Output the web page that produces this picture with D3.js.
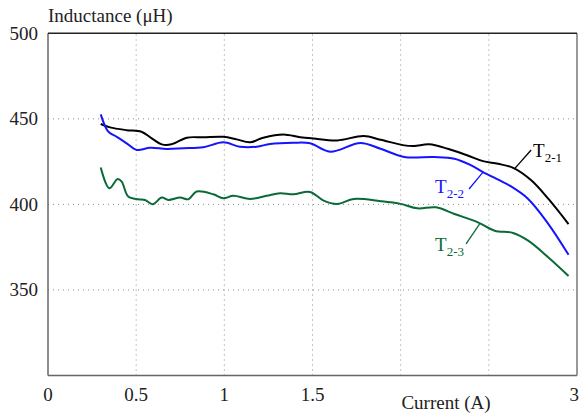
<!DOCTYPE html>
<html>
<head>
<meta charset="utf-8">
<script src="https://cdn.jsdelivr.net/npm/d3@7/dist/d3.min.js"></script>
<style>
  html, body { margin: 0; padding: 0; background: #fff; }
  svg { display: block; }
  text { font-family: "Liberation Serif", "Times New Roman", serif; }
</style>
</head>
<body>
<svg id="chart" width="580" height="414"></svg>
<script>
// Inductance vs. current for three samples (x in A, y in µH)
const t21 = [
  [0.299, 447], [0.352, 445], [0.446, 443.4], [0.53, 442.5], [0.588, 438.6],
  [0.645, 435.1], [0.70, 435.1], [0.787, 439], [0.881, 439.2], [0.994, 439.5],
  [1.07, 438], [1.146, 436.3], [1.221, 439], [1.335, 440.9], [1.43, 439.3],
  [1.505, 438.5], [1.64, 437.4], [1.79, 440], [1.886, 437.8], [2.02, 434.5],
  [2.076, 434.1], [2.162, 435.1], [2.267, 432.5], [2.38, 428.6], [2.467, 425.3],
  [2.552, 423.7], [2.638, 421.4], [2.742, 414], [2.838, 403.2], [2.952, 388.5]
];
const t22 = [
  [0.299, 452.6], [0.342, 442.5], [0.39, 439.5], [0.446, 435.7], [0.503, 431.8],
  [0.579, 433.1], [0.673, 432.4], [0.767, 432.8], [0.881, 433.4], [0.994, 436.3],
  [1.089, 433.7], [1.184, 433.7], [1.259, 435.3], [1.391, 436], [1.486, 435.7],
  [1.6, 430.8], [1.772, 435.9], [1.886, 432.5], [2.02, 427.7], [2.19, 427.7],
  [2.305, 426.7], [2.4, 422.8], [2.467, 418.9], [2.562, 414], [2.618, 411],
  [2.723, 403.2], [2.838, 388.5], [2.952, 370.6]
];
const t23 = [
  [0.299, 421.5], [0.348, 409.4], [0.395, 414.9], [0.418, 413.3], [0.455, 404.6],
  [0.512, 403], [0.55, 402.6], [0.594, 400.1], [0.645, 404], [0.682, 402.6],
  [0.749, 404], [0.796, 403], [0.843, 407.5], [0.938, 405.9], [0.994, 403.6],
  [1.051, 405], [1.146, 403.2], [1.24, 405], [1.316, 406.5], [1.391, 405.9],
  [1.486, 407.3], [1.563, 402.2], [1.64, 400.3], [1.734, 403.2], [1.886, 401.9],
  [2.0, 400.3], [2.095, 397.7], [2.2, 398.3], [2.305, 394.4], [2.438, 389.5],
  [2.533, 384.6], [2.638, 383.3], [2.723, 378.8], [2.838, 369], [2.952, 358.2]
];

const xTickLabels = ["0", "0.5", "1", "1.5", "3"];
const xTickValues = [0, 0.5, 1, 1.5, 3];
const yTickValues = [350, 400, 450, 500];
const gridX = [0.5, 1, 1.5, 2, 2.5];
const gridY = [350, 400, 450];

const seriesNames = ["2-1", "2-2", "2-3"];
const seriesColors = ["#000000", "#1414ff", "#0a6a36"];
const seriesData = [t21, t22, t23];
// label anchor [x, y] and leader line [from curve, to label], in data units
const labelPos = [[2.751, 427.7], [2.195, 406.7], [2.195, 372.9]];
const leaders = [
  [[2.649, 421.2], [2.740, 431.8]],
  [[2.467, 418.9], [2.388, 409.0]],
  [[2.448, 388.6], [2.371, 376.9]]
];

const svg = d3.select("#chart");
const x = d3.scaleLinear().domain([0, 3]).range([48, 577]);
const y = d3.scaleLinear().domain([300, 500]).range([375.5, 33.3]);

// dotted grid
svg.append("g").selectAll("line").data(gridX).join("line")
  .attr("x1", d => x(d)).attr("x2", d => x(d))
  .attr("y1", y(300)).attr("y2", y(500))
  .attr("stroke", "#8a8a8a").attr("stroke-width", 1)
  .attr("stroke-dasharray", "1,4");
svg.append("g").selectAll("line").data(gridY).join("line")
  .attr("x1", x(0)).attr("x2", x(3))
  .attr("y1", d => y(d)).attr("y2", d => y(d))
  .attr("stroke", "#8a8a8a").attr("stroke-width", 1)
  .attr("stroke-dasharray", "1,4");

// frame
svg.append("line").attr("x1", x(0)).attr("x2", x(0)).attr("y1", y(500)).attr("y2", y(300))
  .attr("stroke", "#666").attr("stroke-width", 1.5);
svg.append("line").attr("x1", x(0)).attr("x2", x(3)).attr("y1", y(300)).attr("y2", y(300))
  .attr("stroke", "#666").attr("stroke-width", 1.5);
svg.append("line").attr("x1", x(3)).attr("x2", x(3)).attr("y1", y(500)).attr("y2", y(300))
  .attr("stroke", "#777").attr("stroke-width", 1.5);
svg.append("line").attr("x1", x(0)).attr("x2", x(3)).attr("y1", y(500)).attr("y2", y(500))
  .attr("stroke", "#222").attr("stroke-width", 1.5);

// tick labels (the last one is kept inside the right edge)
svg.append("g").selectAll("text").data(xTickValues).join("text")
  .attr("x", d => d === 3 ? 579 : x(d)).attr("y", 401)
  .attr("text-anchor", d => d === 3 ? "end" : "middle")
  .attr("font-size", 19).attr("fill", "#222")
  .text((d, i) => xTickLabels[i]);
svg.append("g").selectAll("text").data(yTickValues).join("text")
  .attr("x", 38).attr("y", d => y(d) + 6.5)
  .attr("text-anchor", "end").attr("font-size", 19).attr("fill", "#222")
  .text(d => d);

// axis titles
svg.append("text").attr("x", 48).attr("y", 22).attr("font-size", 19).attr("fill", "#222")
  .text("Inductance (μH)");
svg.append("text").attr("x", 446).attr("y", 409).attr("text-anchor", "middle")
  .attr("font-size", 19).attr("fill", "#222").text("Current (A)");

// curves
const line = d3.line().x(d => x(d[0])).y(d => y(d[1])).curve(d3.curveCatmullRom.alpha(0.5));
seriesData.forEach((s, i) => {
  svg.append("path").datum(s).attr("d", line)
    .attr("fill", "none").attr("stroke", seriesColors[i]).attr("stroke-width", 2)
    .attr("stroke-linejoin", "round");
});

// labels with leader lines
seriesNames.forEach((n, i) => {
  const [a, b] = leaders[i];
  svg.append("line").attr("x1", x(a[0])).attr("y1", y(a[1]))
    .attr("x2", x(b[0])).attr("y2", y(b[1]))
    .attr("stroke", seriesColors[i]).attr("stroke-width", 1.3);
  const t = svg.append("text").attr("x", x(labelPos[i][0])).attr("y", y(labelPos[i][1]))
    .attr("font-size", 19).attr("fill", seriesColors[i]);
  t.append("tspan").text("T");
  t.append("tspan").attr("font-size", 13).attr("dy", 5).text(n);
});
</script>
</body>
</html>
